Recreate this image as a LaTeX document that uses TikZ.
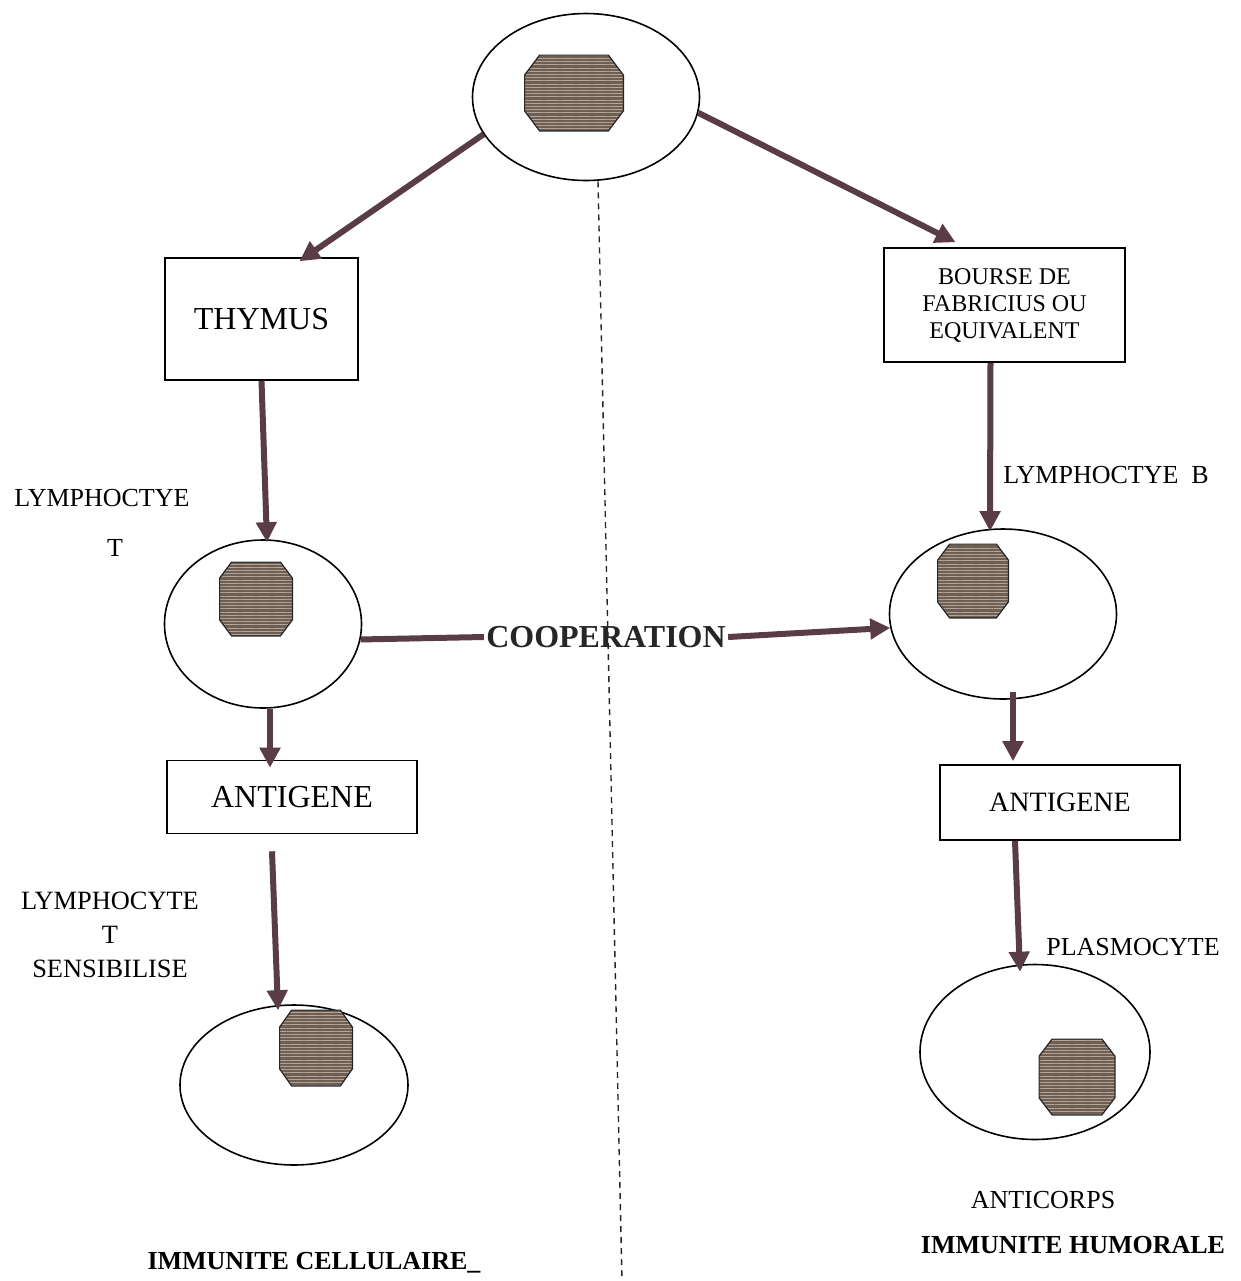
\documentclass[tikz,border=0pt]{standalone}
\usepackage{fontspec}
\setmainfont{Liberation Serif}
\usetikzlibrary{arrows.meta,shapes.geometric,patterns.meta,calc}
\definecolor{arrowc}{HTML}{5A3C46}
\definecolor{nucfill}{HTML}{6F5F52}
\definecolor{nucline}{HTML}{B3A79C}
\tikzset{
 cell/.style={ellipse, draw=black, line width=0.8pt, inner sep=0pt},
 nucbox/.style={rectangle, draw=none, inner sep=0pt},
 nucleus/.style={draw=black!85, line width=0.6pt,
   preaction={fill=nucfill}, pattern={Lines[angle=0,distance=1.6pt,line width=0.5pt]}, pattern color=nucline},
 organ/.style={rectangle, draw=black, line width=0.8pt, inner sep=0pt, align=center},
 arr/.style={draw=arrowc, line width=3pt, -{Triangle[length=10pt,width=10pt]}, fill=arrowc},
 plainline/.style={draw=arrowc, line width=3pt},
 lbl/.style={align=center, font=\fontsize{13}{15.5}\selectfont, inner sep=0pt},
 boldlbl/.style={align=center, font=\bfseries\fontsize{13}{15.5}\selectfont, inner sep=0pt},
 divider/.style={draw=black!85, line width=0.7pt, dash pattern=on 3pt off 2.5pt}
}
% octagon drawn on the corners of a named box node: #1 node, #2 horizontal cut, #3 vertical cut
\newcommand{\octagonof}[3]{%
  \path[nucleus] ($(#1.north west)+(#2,0)$) -- ($(#1.north east)+(-#2,0)$)
    -- ($(#1.north east)+(0,#3)$) -- ($(#1.south east)+(0,-#3)$)
    -- ($(#1.south east)+(-#2,0)$) -- ($(#1.south west)+(#2,0)$)
    -- ($(#1.south west)+(0,-#3)$) -- ($(#1.north west)+(0,#3)$) -- cycle;}
\begin{document}
\begin{tikzpicture}[x=0.5pt,y=-0.5pt]
\useasboundingbox (0,0) rectangle (1241,1281);

% cells
\node[cell, minimum width=113.5pt, minimum height=83.5pt] (top) at (586,97) {};
\node[nucbox, minimum width=49pt, minimum height=37.5pt] (nucTop) at (574,93) {};
\octagonof{nucTop}{15}{20}

\node[cell, minimum width=98.5pt, minimum height=84pt] (cellT) at (263,624) {};
\node[nucbox, minimum width=36pt, minimum height=36.5pt] (nucT) at (256,599) {};
\octagonof{nucT}{12}{16}

\node[cell, minimum width=113.5pt, minimum height=85pt] (cellB) at (1003,614) {};
\node[nucbox, minimum width=35pt, minimum height=36.5pt] (nucB) at (973,581) {};
\octagonof{nucB}{12}{16}

\node[cell, minimum width=114pt, minimum height=80pt] (cellTs) at (294,1085) {};
\node[nucbox, minimum width=36pt, minimum height=37.5pt] (nucTs) at (316,1048) {};
\octagonof{nucTs}{12}{17}

\node[cell, minimum width=115pt, minimum height=87.5pt] (plasmo) at (1035,1052) {};
\node[nucbox, minimum width=37.5pt, minimum height=37.5pt] (nucP) at (1077,1077) {};
\octagonof{nucP}{13}{17}

% organs / boxes
\node[organ, minimum width=96.5pt, minimum height=61pt, font=\fontsize{16}{19}\selectfont] (thymus) at (261.5,319) {THYMUS};
\node[organ, minimum width=120.5pt, minimum height=57pt, font=\fontsize{12}{13.5}\selectfont] (bourse) at (1004.5,305) {BOURSE DE\\FABRICIUS OU\\EQUIVALENT};
\node[organ, minimum width=125pt, minimum height=36.5pt, font=\fontsize{16}{19}\selectfont] (antiL) at (292,797) {ANTIGENE};
\node[organ, minimum width=120pt, minimum height=37.5pt, font=\fontsize{14}{17}\selectfont] (antiR) at (1060,802.5) {ANTIGENE};

% divider
\coordinate (dend) at (622,1281);
\draw[divider] ($(top.south)+(12,0)$) -- (dend);

% cooperation
\node[inner sep=1pt, font=\bfseries\fontsize{16}{19}\selectfont, text=black!85] (coop) at (606,637) {COOPERATION};

% labels
\node[lbl] (lymT1) at (102,498) {LYMPHOCTYE};
\node[lbl] (lymT2) at (115,548) {T};
\node[lbl, anchor=west] (lymB) at (1003,475) {LYMPHOCTYE\ \ B};
\node[lbl, font=\fontsize{13.2}{17}\selectfont] (lymTs) at (110,935) {LYMPHOCYTE\\T\\SENSIBILISE};
\node[lbl] (plasLbl) at (1133,947) {PLASMOCYTE};
\node[lbl] (anticorps) at (1043,1200) {ANTICORPS};
\node[boldlbl] (humorale) at (1073,1245) {IMMUNITE HUMORALE};
\node[boldlbl] (cellulaire) at (314,1263) {IMMUNITE CELLULAIRE\_};

% arrows
\draw[arr] (top.200) -- ($(thymus.north)+(38,4)$);
\draw[arr] (top.-8) -- ($(bourse.north)+(-49,-5)$);
\draw[arr] (thymus.south) -- ($(cellT.north)+(4,3)$);
\draw[arr] ($(bourse.south)+(-14,0)$) -- ($(cellB.north)+(-13,3)$);
\draw[plainline] (cellT.-9) -- (coop.west);
\draw[arr] (coop.east) -- (cellB.187);
\draw[arr] ($(cellT.south)+(7,0)$) -- ($(antiL.north)+(-22,8)$);
\draw[arr] ($(antiL.south)+(-20,17)$) -- ($(cellTs.north)+(-16,6)$);
\draw[arr] ($(cellB.south)+(10,-8)$) -- ($(antiR.north)+(-47,-3)$);
\draw[arr] ($(antiR.south)+(-45,0)$) -- ($(plasmo.north)+(-15,8)$);
\end{tikzpicture}
\end{document}
